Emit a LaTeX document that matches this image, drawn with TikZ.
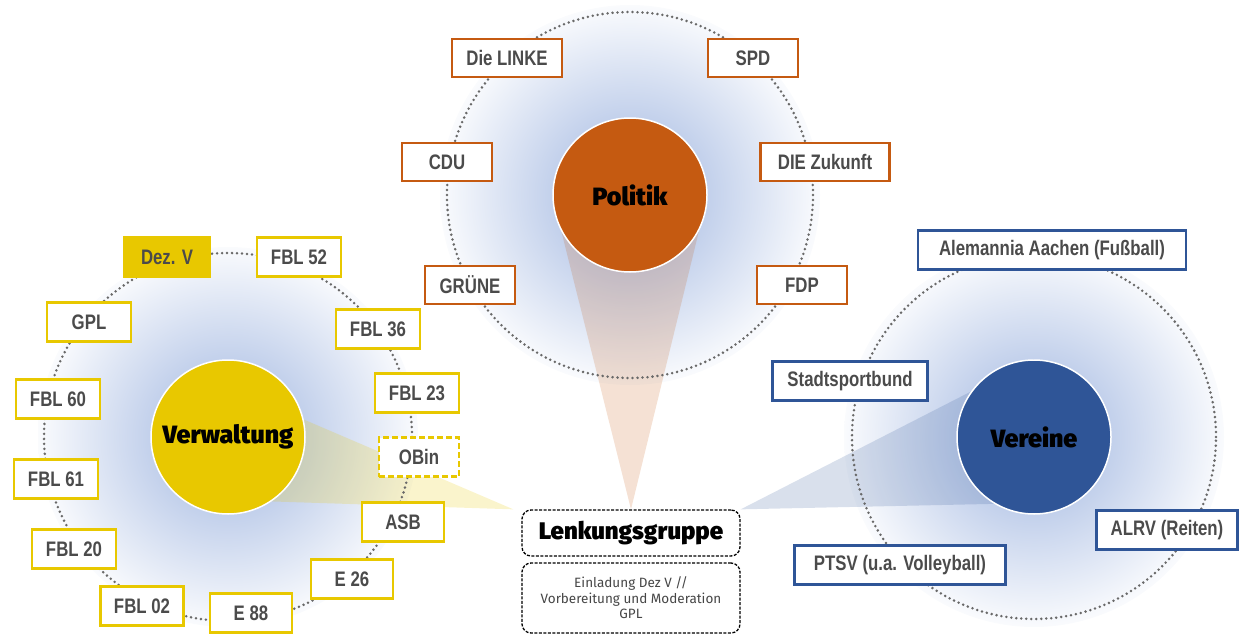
\documentclass[tikz,border=0pt]{standalone}
\usepackage{fontspec}
\setmainfont{Liberation Sans}
\newfontfamily\boxfont[FakeStretch=0.8]{Liberation Sans}
\newfontfamily\headfont[BoldFont={Fira Sans Black}]{Fira Sans}
\usetikzlibrary{calc,backgrounds}
\definecolor{polc}{RGB}{197,90,17}
\definecolor{verwc}{RGB}{232,200,0}
\definecolor{verc}{RGB}{47,85,151}
\definecolor{haloblue}{RGB}{190,205,234}
\definecolor{boxtext}{RGB}{75,75,75}
\definecolor{ringgray}{RGB}{105,105,105}
\pgfdeclareradialshading{haloshade}{\pgfpoint{0bp}{0bp}}{color(0bp)=(haloblue); color(9bp)=(haloblue); color(25bp)=(haloblue!8); color(26bp)=(white); color(50bp)=(white)}
\tikzset{
  box/.style={draw, line width=2.8pt, fill=white, inner sep=0pt, minimum width=84pt,
    minimum height=39pt, text=boxtext, font=\boxfont\bfseries\fontsize{21}{25}\selectfont},
  polbox/.style={box, draw=polc, minimum width=90pt, minimum height=38pt},
  verwbox/.style={box, draw=verwc},
  verbox/.style={box, draw=verc},
  hub/.style={circle, draw=white, line width=1.5pt, minimum size=154pt, inner sep=0pt,
    text=black, font=\headfont\bfseries\fontsize{25}{30}\selectfont},
  ring/.style={draw=ringgray, line width=2.8pt, line cap=round, dash pattern=on 0pt off 5pt},
  glow/.style={shading=haloshade},
  lenkbox/.style={draw=black, line width=1.3pt, dash pattern=on 3pt off 1.5pt,
    rounded corners=9pt, minimum width=218pt, inner sep=0pt, fill=white}
}
\begin{document}
\begin{tikzpicture}[x=1pt, y=-1pt]
\useasboundingbox (0,0) rectangle (1239,642);
% nodes
\node[hub, fill=polc] (pol) at (630, 195) {Politik};
    \node[polbox, minimum width=110pt] (pol-linke) at (507, 58) {Die LINKE};
    \node[polbox] (pol-spd) at (753, 58) {SPD};
    \node[polbox] (pol-cdu) at (447, 162) {CDU};
    \node[polbox, minimum width=129pt] (pol-zukunft) at (825, 162) {DIE Zukunft};
    \node[polbox] (pol-gruene) at (470, 285) {GRÜNE};
    \node[polbox] (pol-fdp) at (802, 285) {FDP};
\node[hub, fill=verwc] (verw) at (228, 437) {Verwaltung};
    \node[verwbox, fill=verwc, minimum width=85pt] (verw-dez) at (167, 257) {Dez. V};
    \node[verwbox] (verw-52) at (299, 257) {FBL 52};
    \node[verwbox] (verw-gpl) at (89, 322) {GPL};
    \node[verwbox] (verw-36) at (378, 329) {FBL 36};
    \node[verwbox] (verw-60) at (58, 399) {FBL 60};
    \node[verwbox] (verw-23) at (417, 393) {FBL 23};
    \node[verwbox, minimum width=80pt, dash pattern=on 6pt off 3pt] (verw-obin) at (419, 457) {OBin};
    \node[verwbox] (verw-61) at (56, 479) {FBL 61};
    \node[verwbox, minimum width=82pt] (verw-asb) at (403, 522) {ASB};
    \node[verwbox] (verw-20) at (74, 549) {FBL 20};
    \node[verwbox, minimum width=82pt] (verw-e26) at (352, 579) {E 26};
    \node[verwbox, minimum width=83pt] (verw-02) at (142, 606) {FBL 02};
    \node[verwbox, minimum width=82pt] (verw-e88) at (251, 613) {E 88};
\node[hub, fill=verc] (ver) at (1034, 437) {Vereine};
    \node[verbox, minimum width=268pt] (ver-alemannia) at (1052, 250) {Alemannia Aachen (Fußball)};
    \node[verbox, minimum width=155pt] (ver-ssb) at (850, 381) {Stadtsportbund};
    \node[verbox, minimum width=141pt] (ver-alrv) at (1167, 530) {ALRV (Reiten)};
    \node[verbox, minimum width=211pt] (ver-ptsv) at (900, 565) {PTSV (u.a. Volleyball)};
\node[lenkbox, minimum height=46pt, font=\headfont\bfseries\fontsize{24}{28}\selectfont] (lenk) at (631, 533) {Lenkungsgruppe};
    \node[lenkbox, minimum height=70pt, align=center, text={rgb,255:red,70;green,70;blue,70},
      font=\headfont\fontsize{13.5}{15.5}\selectfont] (lenk-note) at (631, 598)
      {Einladung Dez V //\\Vorbereitung und Moderation\\GPL};
% halos, beams, rings
\begin{scope}[on background layer]
\shade[glow] (pol.center) circle (190pt);
\shade[glow] (verw.center) circle (190pt);
\shade[glow] (ver.center) circle (190pt);
\fill[polc, fill opacity=0.18] (pol.west) -- (lenk.north) -- (pol.east) -- cycle;
\fill[verwc, fill opacity=0.2] ($(verw.center)+(0,-50)$) -- ([xshift=-8pt]lenk.north west) -- ($(verw.center)+(0,63)$) -- cycle;
\fill[verc, fill opacity=0.18] (ver.north) -- (lenk.north east) -- ($(ver.center)+(0,66)$) -- cycle;
\draw[ring] (pol.center) circle (183pt);
\draw[ring] (verw.center) circle (184pt);
\draw[ring] (ver.center) circle (182pt);
\end{scope}
\end{tikzpicture}
\end{document}
